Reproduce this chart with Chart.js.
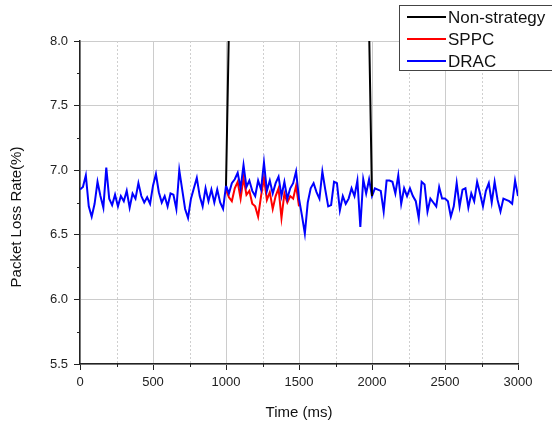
<!DOCTYPE html>
<html>
<head>
<meta charset="utf-8">
<script src="https://cdn.jsdelivr.net/npm/chart.js@4.4.0/dist/chart.umd.min.js"></script>
<style>
  html, body { margin: 0; padding: 0; background: #fff; }
  #wrap { width: 552px; height: 422px; position: relative; }
</style>
</head>
<body>
<div id="wrap"><canvas id="lossChart"></canvas></div>
<script>
// sample times in ms (one sample every 20 ms)
const times = [];
for (let t = 0; t <= 3000; t += 20) times.push(t);

// DRAC packet loss rate (%)
const dracValues = [
  6.85, 6.87, 6.96, 6.72, 6.64, 6.74, 6.91, 6.80, 6.71, 7.02, 6.78, 6.73, 6.81, 6.72, 6.80, 6.76, 6.84, 6.71, 6.82, 6.78, 6.90, 6.80, 6.75, 6.79, 6.74, 6.88,
  6.97, 6.83, 6.75, 6.80, 6.72, 6.82, 6.81, 6.70, 7.00, 6.85, 6.70, 6.63, 6.78, 6.86, 6.94, 6.80, 6.72, 6.86, 6.76, 6.85, 6.75, 6.85, 6.75, 6.70, 6.88,
  6.82, 6.90, 6.93, 6.98, 6.86, 7.04, 6.87, 6.92, 6.84, 6.80, 6.92, 6.85, 7.06, 6.84, 6.92, 6.82, 6.90, 6.95, 6.80, 6.91, 6.78, 6.86, 6.90, 6.99, 6.78,
  6.65, 6.51, 6.75, 6.86, 6.90, 6.83, 6.78, 6.99, 6.85, 6.72, 6.73, 6.91, 6.90, 6.69, 6.80, 6.74, 6.78, 6.86, 6.80, 6.92, 6.56, 6.93, 6.82, 6.93, 6.80,
  6.86, 6.85, 6.84, 6.68, 6.92, 6.92, 6.91, 6.82, 6.96, 6.74, 6.86, 6.80, 6.86, 6.80, 6.76, 6.63, 6.91, 6.89, 6.68, 6.78, 6.75, 6.72, 6.87, 6.78,
  6.78, 6.76, 6.64, 6.72, 6.90, 6.72, 6.85, 6.86, 6.71, 6.82, 6.76, 6.91, 6.82, 6.72, 6.84, 6.90, 6.75, 6.91, 6.77, 6.68, 6.78, 6.77, 6.76, 6.74, 6.92, 6.80
];

// SPPC only shown between 1000 and 1500 ms
const sppcTimes = [];
for (let t = 1000; t <= 1500; t += 20) sppcTimes.push(t);
const sppcValues = [
  6.85, 6.79, 6.76, 6.86, 6.91, 6.78, 6.94, 6.81, 6.84, 6.74, 6.72, 6.64, 6.80,
  6.94, 6.77, 6.83, 6.70, 6.80, 6.86, 6.63, 6.82, 6.75, 6.80, 6.78, 6.88, 6.72
];

// Non-strategy jumps off the top of the axis between ~1000 and ~2000 ms
const nonTimes = [1000, 1020, 1980, 2000];
const nonValues = [6.88, 8.1, 8.1, 6.80];

const yTicks = [5.5, 6.0, 6.5, 7.0, 7.5, 8.0];

const toPoints = (xs, ys) => xs.map((x, i) => ({ x: x, y: ys[i] }));

const tickFont = { family: 'Arial, "Liberation Sans", sans-serif', size: 13 };

// minor grid, minor ticks, y title and boxed legend
const decorPlugin = {
  id: 'decor',
  beforeDatasetsDraw(chart) {
    const { ctx, chartArea: a, scales: { x } } = chart;
    ctx.save();
    ctx.strokeStyle = '#cfcfcf';
    ctx.lineWidth = 1;
    ctx.setLineDash([2, 2]);
    for (let v = 250; v < 3000; v += 500) {
      const px = Math.round(x.getPixelForValue(v)) + 0.5;
      ctx.beginPath();
      ctx.moveTo(px, a.top);
      ctx.lineTo(px, a.bottom);
      ctx.stroke();
    }
    ctx.restore();
  },
  afterDraw(chart) {
    const { ctx, chartArea: a, scales: { x, y } } = chart;
    ctx.save();
    ctx.strokeStyle = '#222';
    ctx.lineWidth = 1;
    for (let v = 250; v < 3000; v += 500) {
      const px = Math.round(x.getPixelForValue(v)) + 0.5;
      ctx.beginPath();
      ctx.moveTo(px, a.bottom);
      ctx.lineTo(px, a.bottom + 3);
      ctx.stroke();
    }
    for (let v = 5.75; v < 8; v += 0.5) {
      const py = Math.round(y.getPixelForValue(v)) + 0.5;
      ctx.beginPath();
      ctx.moveTo(a.left - 3, py);
      ctx.lineTo(a.left, py);
      ctx.stroke();
    }

    // y axis title
    ctx.fillStyle = '#111';
    ctx.font = '15px Arial, "Liberation Sans", sans-serif';
    ctx.textAlign = 'center';
    ctx.textBaseline = 'middle';
    ctx.translate(17, 217);
    ctx.rotate(-Math.PI / 2);
    ctx.fillText('Packet Loss Rate(%)', 0, 0);
    ctx.restore();

    // legend box, running off the right edge like the original
    ctx.save();
    ctx.fillStyle = '#fff';
    ctx.fillRect(399, 5, 170, 65);
    ctx.strokeStyle = '#444';
    ctx.lineWidth = 1;
    ctx.strokeRect(399.5, 5.5, 170, 65);
    ctx.font = '17px Arial, "Liberation Sans", sans-serif';
    ctx.textAlign = 'left';
    ctx.textBaseline = 'middle';
    chart.data.datasets.forEach((ds, i) => {
      const ly = 17 + i * 22;
      ctx.strokeStyle = ds.borderColor;
      ctx.lineWidth = 2;
      ctx.beginPath();
      ctx.moveTo(407, ly);
      ctx.lineTo(446, ly);
      ctx.stroke();
      ctx.fillStyle = '#111';
      ctx.fillText(ds.label, 448, ly + 1);
    });
    ctx.restore();
  }
};

const config = {
  type: 'line',
  data: {
    datasets: [
      {
        label: 'Non-strategy',
        data: toPoints(nonTimes, nonValues),
        borderColor: '#000000',
        borderWidth: 2,
        order: 0
      },
      {
        label: 'SPPC',
        data: toPoints(sppcTimes, sppcValues),
        borderColor: '#ff0000',
        borderWidth: 2,
        order: 2
      },
      {
        label: 'DRAC',
        data: toPoints(times, dracValues),
        borderColor: '#0000ff',
        borderWidth: 2,
        order: 1
      }
    ]
  },
  options: {
    responsive: true,
    maintainAspectRatio: false,
    animation: false,
    layout: { padding: { top: 41, right: 34, left: 0, bottom: 0 } },
    elements: {
      point: { radius: 0 },
      line: { tension: 0 }
    },
    plugins: {
      legend: { display: false },
      tooltip: { enabled: false }
    },
    scales: {
      x: {
        type: 'linear',
        min: 0,
        max: 3000,
        afterFit(scale) { scale.height = 58; },
        ticks: {
          stepSize: 500,
          color: '#222',
          font: tickFont,
          padding: 5,
          maxRotation: 0,
          callback: v => String(v)
        },
        grid: {
          color: '#cccccc',
          tickColor: '#222',
          tickLength: 6
        },
        border: { color: '#222', width: 1.5 },
        title: {
          display: true,
          text: 'Time (ms)',
          color: '#111',
          font: { family: 'Arial, "Liberation Sans", sans-serif', size: 15 },
          padding: { top: 3, bottom: 0 }
        }
      },
      y: {
        min: 5.5,
        max: 8.0,
        afterFit(scale) { scale.width = 80; },
        afterBuildTicks(scale) { scale.ticks = yTicks.map(v => ({ value: v })); },
        ticks: {
          color: '#222',
          font: tickFont,
          padding: 6,
          callback: v => v.toFixed(1)
        },
        grid: {
          color: '#cccccc',
          tickColor: '#222',
          tickLength: 6
        },
        border: { color: '#222', width: 1.5 }
      }
    }
  },
  plugins: [decorPlugin]
};

const chartContext = document.getElementById('lossChart').getContext('2d');
const lossChart = new Chart(chartContext, config);
</script>
</body>
</html>
